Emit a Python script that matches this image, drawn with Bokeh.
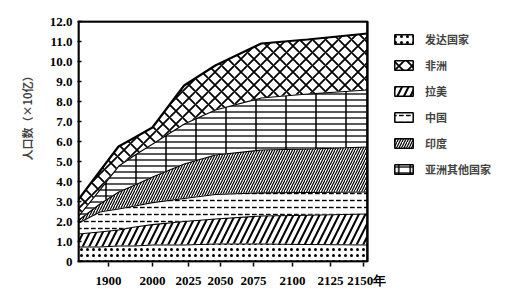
import numpy as np
from bokeh.plotting import figure
from bokeh.models import Range1d, FixedTicker, Legend, LegendItem, Title
from bokeh.embed import file_html
from bokeh.resources import INLINE

# ---- data (人口, 10亿) ----
years = [1832, 1880, 1923, 1960, 2000, 2022, 2046, 2080, 2110, 2153]
developed = [0.75, 0.75, 0.8, 0.8, 0.85, 0.85, 0.9, 0.9, 0.88, 0.85]
latin_america = [0.65, 0.75, 0.8, 0.95, 1.02, 1.18, 1.25, 1.4, 1.46, 1.55]
china = [0.55, 1.0, 1.05, 1.05, 1.1, 1.15, 1.23, 1.16, 1.14, 1.1]
india = [0.15, 0.4, 0.85, 1.05, 1.28, 1.72, 1.97, 2.14, 2.17, 2.25]
other_asia = [0.2, 0.7, 1.3, 1.5, 1.65, 2.0, 2.25, 2.6, 2.75, 2.85]
africa = [0.8, 0.9, 0.95, 0.85, 0.8, 1.9, 2.2, 2.7, 2.7, 2.8]

tick_years = [1900, 2000, 2025, 2050, 2075, 2100, 2125, 2150]
y_ticks = [0, 1, 2, 3, 4, 5, 6, 7, 8, 9, 10, 11, 12]

# ---- axis layout (non-uniform time axis as in the original) ----
tick_pos = [30, 74, 110, 142, 175, 214, 252, 285]


def to_x(yrs):
    yrs = np.asarray(yrs, dtype=float)
    x = np.interp(yrs, tick_years, tick_pos)
    lo = yrs < tick_years[0]
    hi = yrs > tick_years[-1]
    x[lo] = tick_pos[0] + (yrs[lo] - tick_years[0]) * (tick_pos[1] - tick_pos[0]) / (tick_years[1] - tick_years[0])
    x[hi] = tick_pos[-1] + (yrs[hi] - tick_years[-1]) * (tick_pos[-1] - tick_pos[-2]) / (tick_years[-1] - tick_years[-2])
    return x


xs = to_x(years)
x0, x1 = float(xs[0]), float(xs[-1])

W, H = 522, 290
left_b, top_b, bottom_b = 77, 20, 26
p = figure(width=W, height=H, output_backend="svg", toolbar_location=None,
           x_range=Range1d(x0 - 1, x0 - 1 + (W - left_b)),
           y_range=Range1d(-0.05, 12.05),
           min_border_left=left_b, min_border_right=0, min_border_top=top_b,
           min_border_bottom=bottom_b)
p.background_fill_color = "white"
p.border_fill_color = "white"
p.outline_line_color = None
p.xgrid.visible = False
p.ygrid.visible = False

layers = [
    ("发达国家", developed, dict(hatch_pattern="dot", hatch_scale=6, hatch_weight=1.6)),
    ("拉美", latin_america, dict(hatch_pattern="right_diagonal_line", hatch_scale=13, hatch_weight=2)),
    ("中国", china, dict(hatch_pattern="horizontal_dash", hatch_scale=7, hatch_weight=1.4)),
    ("印度", india, dict(hatch_pattern="right_diagonal_line", hatch_scale=5, hatch_weight=1.2)),
    ("亚洲其他国家", other_asia, dict(hatch_pattern="horizontal_line", hatch_scale=6, hatch_weight=1.3)),
    ("非洲", africa, dict(hatch_pattern="diagonal_cross", hatch_scale=13, hatch_weight=1.8)),
]

nan1 = [float("nan")]
base = np.zeros(len(years))
proxies = {}
for name, vals, hatch in layers:
    top = base + np.asarray(vals)
    p.varea(x=xs, y1=base, y2=top, fill_color="white", hatch_color="black", **hatch)
    if name == "亚洲其他国家":
        p.varea(x=xs, y1=base, y2=top, fill_alpha=0, hatch_color="black",
                hatch_pattern="vertical_line", hatch_scale=30, hatch_weight=1.5)
    p.line(x=xs, y=top, line_color="black", line_width=2.2)
    r = p.quad(left=nan1, right=nan1, top=nan1, bottom=nan1, fill_color="white",
               line_color="black", line_width=1.5, hatch_color="black", **hatch)
    rs = [r]
    if name == "亚洲其他国家":
        rs.append(p.quad(left=nan1, right=nan1, top=nan1, bottom=nan1, fill_alpha=0,
                         line_alpha=0, hatch_color="black", hatch_pattern="vertical_line",
                         hatch_scale=11.5, hatch_weight=1.5))
    proxies[name] = rs
    base = top

# plot frame box
p.quad(left=[x0], right=[x1], bottom=[0], top=[12], fill_alpha=0,
       line_color="black", line_width=2.5)

legend_order = ["发达国家", "非洲", "拉美", "中国", "印度", "亚洲其他国家"]
legend = Legend(items=[LegendItem(label=n, renderers=proxies[n]) for n in legend_order],
                location=(315, 85), margin=0, padding=0, spacing=10,
                glyph_width=23, glyph_height=12, label_standoff=10,
                label_text_font="Noto Sans CJK SC", label_text_font_style="bold",
                label_text_font_size="11px", border_line_color=None,
                background_fill_alpha=0)
p.add_layout(legend)

# axes
p.xaxis.ticker = FixedTicker(ticks=tick_pos)
p.xaxis.major_label_overrides = {t: str(y) for t, y in zip(tick_pos, tick_years)}
p.xaxis.major_label_overrides[tick_pos[-1]] = "\u2002" + str(tick_years[-1]) + "年"
p.yaxis.ticker = FixedTicker(ticks=y_ticks)
p.yaxis.major_label_overrides = {v: ("0" if v == 0 else f"{v:.1f}") for v in y_ticks}
for ax in (p.xaxis[0], p.yaxis[0]):
    ax.axis_line_color = None
    ax.minor_tick_line_color = None
    ax.major_tick_line_color = "black"
    ax.major_tick_line_width = 1.5
    ax.major_label_text_font = "Liberation Serif"
    ax.major_label_text_font_style = "bold"
    ax.major_label_text_font_size = "13px"
    ax.major_label_text_color = "black"
p.xaxis.major_tick_in = 0
p.xaxis.major_tick_out = 4
p.xaxis.major_label_standoff = 6
p.yaxis.major_tick_in = 4
p.yaxis.major_tick_out = 0
p.yaxis.major_label_standoff = 5

p.add_layout(Title(text="人口数（×10亿）", align="right", offset=50,
                   text_font="Noto Sans CJK SC", text_font_style="bold",
                   text_font_size="11px", standoff=24), "left")

open("out.html", "w").write(file_html(p, INLINE))
